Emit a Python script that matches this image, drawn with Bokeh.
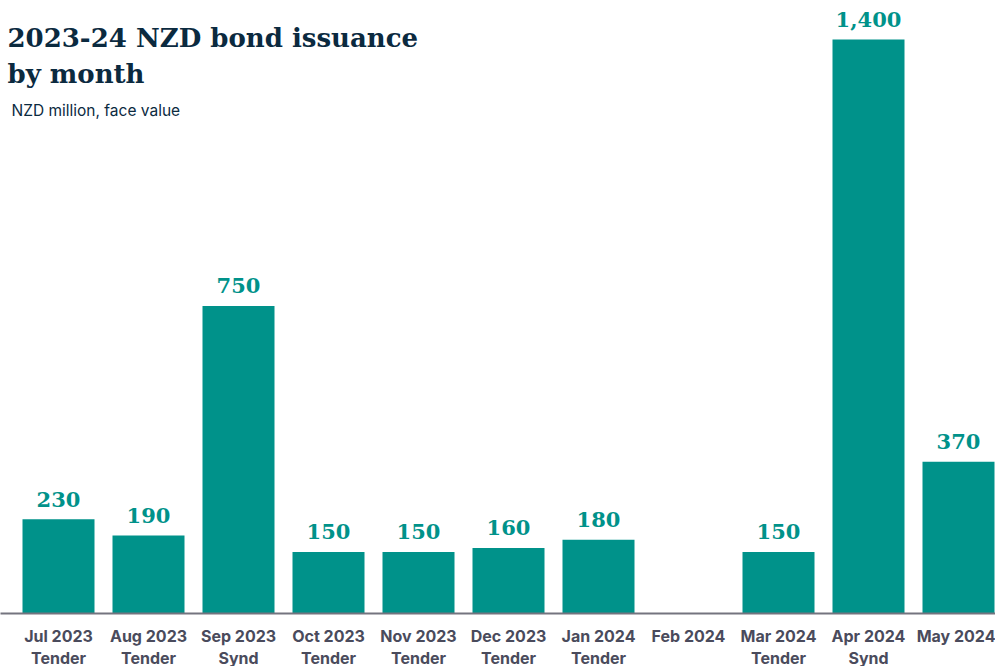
from bokeh.plotting import figure
from bokeh.models import Label, Range1d, FixedTicker
from bokeh.core.properties import value
from bokeh.embed import file_html
from bokeh.resources import INLINE

months = ["Jul 2023", "Aug 2023", "Sep 2023", "Oct 2023", "Nov 2023", "Dec 2023",
          "Jan 2024", "Feb 2024", "Mar 2024", "Apr 2024", "May 2024"]
methods = ["Tender", "Tender", "Synd", "Tender", "Tender", "Tender",
           "Tender", "", "Tender", "Synd", ""]
issuance = [230, 190, 750, 150, 150, 160, 180, 0, 150, 1400, 370]

TEAL = "#00928A"
NAVY = "#0B2A3F"
GREY = "#4A4B5C"

FW, FH = 995, 613
Y_END = 1495
X_START = -0.5 - 13 / 90.0
X_END = X_START + FW / 90.0

p = figure(frame_width=FW, frame_height=FH, output_backend="svg", toolbar_location=None,
           x_range=Range1d(X_START, X_END), y_range=Range1d(0, Y_END),
           y_axis_location=None, min_border_left=0, min_border_right=0,
           min_border_top=0, min_border_bottom=0)
p.outline_line_color = None
p.xgrid.grid_line_color = None
p.ygrid.grid_line_color = None
p.background_fill_color = "white"
p.border_fill_color = "white"

xs = list(range(len(months)))
bx = [x for x, v in zip(xs, issuance) if v > 0]
bv = [v for v in issuance if v > 0]
p.vbar(x=bx, top=bv, width=0.8, bottom=0, fill_color=TEAL, line_color=None)
p.text(x=bx, y=bv, text=[f"{v:,}" for v in bv], y_offset=-20,
       text_align="center", text_baseline="alphabetic",
       text_font=value("DejaVu Serif"), text_font_style="bold",
       text_font_size="21px", text_color=TEAL)

ax = p.xaxis[0]
ax.ticker = FixedTicker(ticks=xs)
ax.major_label_overrides = {
    i: (m + ("\n" + t if t else "")) for i, (m, t) in enumerate(zip(months, methods))
}
ax.major_tick_line_color = None
ax.minor_tick_line_color = None
ax.axis_line_color = "#74747F"
ax.axis_line_width = 2
ax.fixed_location = None
ax.major_label_standoff = 6
ax.major_label_text_font = "Inter"
ax.major_label_text_font_style = "bold"
ax.major_label_text_font_size = "16px"
ax.major_label_text_color = GREY
ax.major_label_text_line_height = 1.1

# titles in screen units relative to the frame (bottom-left origin)
p.add_layout(Label(x=7, y=FH - 37, x_units="screen", y_units="screen",
                   text="2023-24 NZD bond issuance", text_font="DejaVu Serif",
                   text_font_style="bold", text_font_size="26px",
                   text_color=NAVY, text_baseline="alphabetic"))
p.add_layout(Label(x=7, y=FH - 73, x_units="screen", y_units="screen",
                   text="by month", text_font="DejaVu Serif",
                   text_font_style="bold", text_font_size="26px",
                   text_color=NAVY, text_baseline="alphabetic"))
p.add_layout(Label(x=11, y=FH - 110, x_units="screen", y_units="screen",
                   text="NZD million, face value", text_font="Inter",
                   text_font_size="15.5px", text_color=NAVY,
                   text_baseline="alphabetic"))

open("out.html", "w").write(file_html(p, INLINE))
